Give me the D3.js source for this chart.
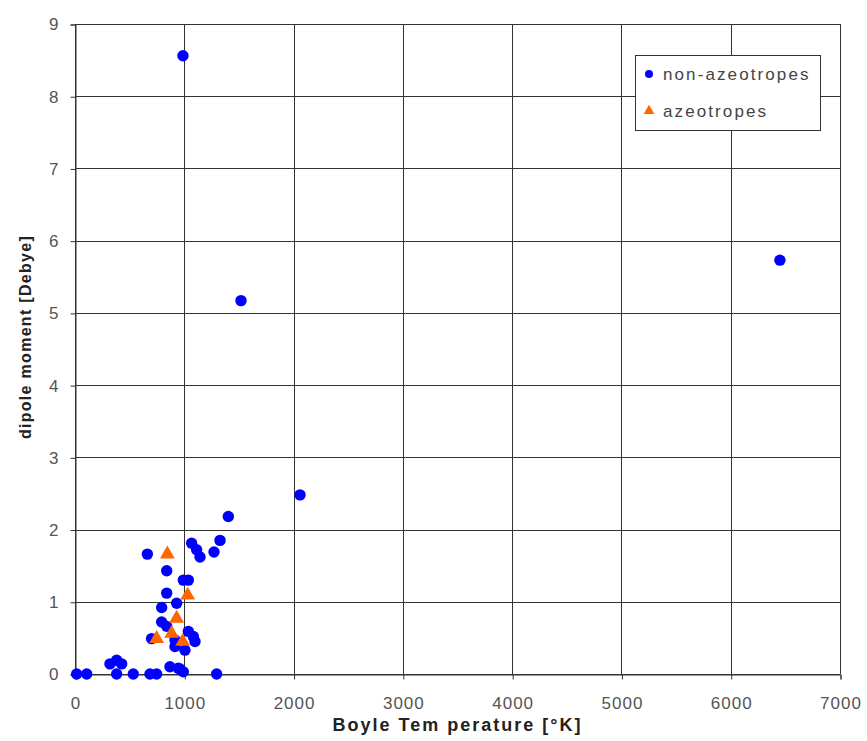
<!DOCTYPE html>
<html>
<head>
<meta charset="utf-8">
<script src="https://cdn.jsdelivr.net/npm/d3@7"></script>
<style>
  body { margin: 0; background: #fff; }
  svg { display: block; }
  .tick text { font-family: Arial, "Liberation Sans", sans-serif; font-size: 17px; fill: #555; letter-spacing: 1px; }
  .axis-title { font-family: Arial, "Liberation Sans", sans-serif; font-weight: bold; fill: #222; }
  .legend text { font-family: Arial, "Liberation Sans", sans-serif; font-size: 17px; fill: #444; letter-spacing: 2.1px; }
</style>
</head>
<body>
<svg id="chart" width="867" height="741"></svg>
<script>
// Boyle temperature [°K] vs. dipole moment [Debye]
const nonAzeoX = [988, 1519, 6450, 2059, 1403, 1067, 1113, 1144, 1327, 1272, 662, 839, 991, 1037, 839, 930, 793, 793, 839, 1037, 1083, 1098, 915, 701, 915, 1006, 869, 961, 15, 107, 320, 381, 427, 381, 533, 686, 747, 1296, 991, 945];
const nonAzeoY = [8.56, 5.17, 5.73, 2.48, 2.18, 1.81, 1.72, 1.62, 1.85, 1.69, 1.66, 1.43, 1.30, 1.30, 1.12, 0.98, 0.92, 0.72, 0.66, 0.59, 0.52, 0.45, 0.47, 0.49, 0.38, 0.33, 0.10, 0.07, 0, 0, 0.14, 0.19, 0.14, 0, 0, 0, 0, 0, 0.03, 0.08];
const azeoX = [845, 1031, 930, 884, 747, 985];
const azeoY = [1.66, 1.09, 0.77, 0.56, 0.49, 0.45];

const xTicks = [0, 1000, 2000, 3000, 4000, 5000, 6000, 7000];
const yTicks = [0, 1, 2, 3, 4, 5, 6, 7, 8, 9];
const seriesNames = ["non-azeotropes", "azeotropes"];

const svg = d3.select("#chart");
const plot = { left: 75, top: 24, right: 840, bottom: 674 };

const x = d3.scaleLinear().domain([0, 7000]).range([plot.left, plot.right]);
const y = d3.scaleLinear().domain([0, 9]).range([plot.bottom, plot.top]);

// grid
const grid = svg.append("g").attr("stroke", "#333").attr("stroke-width", 1);
grid.selectAll(".gx").data(xTicks).join("line")
  .attr("x1", d => Math.round(x(d)) + 0.5).attr("x2", d => Math.round(x(d)) + 0.5)
  .attr("y1", plot.top).attr("y2", plot.bottom);
grid.selectAll(".gy").data(yTicks).join("line")
  .attr("y1", d => Math.round(y(d)) + 0.5).attr("y2", d => Math.round(y(d)) + 0.5)
  .attr("x1", plot.left).attr("x2", plot.right);

// axes
const xAxis = svg.append("g")
  .attr("transform", `translate(0.5,${plot.bottom + 0.5})`)
  .call(d3.axisBottom(x).tickValues(xTicks).tickFormat(d3.format("d")).tickSize(5).tickPadding(17));
const yAxis = svg.append("g")
  .attr("transform", `translate(${plot.left + 0.5},0.5)`)
  .call(d3.axisLeft(y).tickValues(yTicks).tickFormat(d3.format("d")).tickSize(5).tickPadding(11));
[xAxis, yAxis].forEach(a => {
  a.select(".domain").attr("stroke", "#333");
  a.selectAll(".tick line").attr("stroke", "#333");
});

// markers
svg.append("g").selectAll("circle").data(nonAzeoX.map((v, i) => [v, nonAzeoY[i]])).join("circle")
  .attr("cx", d => x(d[0])).attr("cy", d => y(d[1])).attr("r", 5.7).attr("fill", "#0000ff");

const tri = d3.symbol().type(d3.symbolTriangle).size(95);
svg.append("g").selectAll("path").data(azeoX.map((v, i) => [v, azeoY[i]])).join("path")
  .attr("transform", d => `translate(${x(d[0])},${y(d[1])})`)
  .attr("d", tri).attr("fill", "#ff6600");

// axis titles
svg.append("text").attr("class", "axis-title")
  .attr("x", (plot.left + plot.right) / 2).attr("y", 731).attr("text-anchor", "middle")
  .style("font-size", "18px").style("letter-spacing", "2px")
  .text("Boyle Tem perature [°K]");
svg.append("text").attr("class", "axis-title")
  .attr("transform", "translate(31,337) rotate(-90)")
  .attr("text-anchor", "middle")
  .style("font-size", "16px").style("letter-spacing", "1.3px")
  .text("dipole moment [Debye]");

// legend
const legend = svg.append("g").attr("class", "legend");
legend.append("rect").attr("x", 635.5).attr("y", 55.5).attr("width", 185).attr("height", 75)
  .attr("fill", "#fff").attr("stroke", "#333");
legend.append("circle").attr("cx", 649).attr("cy", 74).attr("r", 4).attr("fill", "#0000ff");
legend.append("path").attr("transform", "translate(649,111)").attr("d", d3.symbol().type(d3.symbolTriangle).size(50)).attr("fill", "#ff6600");
legend.selectAll("text").data(seriesNames).join("text")
  .attr("x", 663).attr("y", (d, i) => 74 + i * 37).attr("dy", "0.35em").text(d => d);
</script>
</body>
</html>
